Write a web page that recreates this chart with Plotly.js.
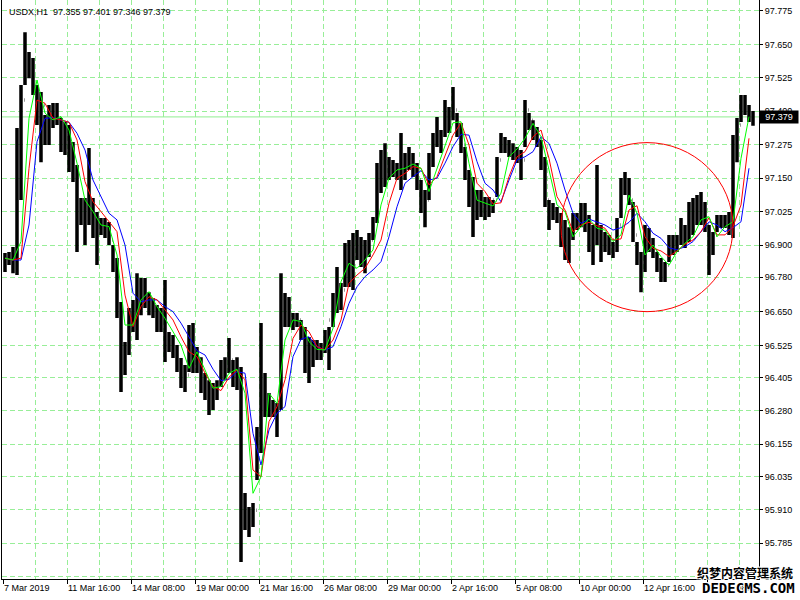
<!DOCTYPE html>
<html><head><meta charset="utf-8">
<script src="https://cdn.plot.ly/plotly-3.0.1.min.js"></script>
<style>html,body{margin:0;padding:0;background:#fff}#chart{width:800px;height:600px}</style>
</head><body><div id="chart"></div>
<script>
// USDX H1, 7 Mar 2019 .. 17 Apr 2019 ; each drawn bar groups 4 hourly bars
const symbolTitle = "USDX,H1\u00a0\u00a097.355 97.401 97.346 97.379";
const lastPrice = 97.379;
const barHours = 4;
const maStepHours = 8;

const open = [
96.860,96.837,96.852,96.837,97.293,97.442,97.592,97.554,97.480,97.405,
97.424,97.330,97.367,97.405,97.375,97.293,97.274,97.218,97.162,97.050,
97.012,96.994,97.012,96.975,96.975,96.975,96.964,96.919,96.837,96.676,
96.508,96.508,96.620,96.657,96.732,96.713,96.695,96.676,96.657,96.620,
96.620,96.545,96.526,96.508,96.452,96.395,96.414,96.489,96.489,96.452,
96.395,96.358,96.321,96.339,96.377,96.433,96.452,96.470,96.414,96.433,
95.947,95.891,95.872,95.909,96.171,96.358,96.321,96.302,96.283,96.283,
96.695,96.657,96.638,96.620,96.620,96.582,96.508,96.489,96.508,96.508,
96.508,96.526,96.620,96.695,96.732,96.732,96.844,96.863,96.900,96.900,
96.881,96.900,96.919,96.994,97.143,97.199,97.181,97.181,97.188,97.181,
97.199,97.199,97.218,97.199,97.143,97.068,97.068,97.218,97.293,97.311,
97.311,97.386,97.386,97.405,97.349,97.274,97.162,97.087,97.068,97.050,
97.031,97.031,97.050,97.068,97.218,97.274,97.274,97.255,97.255,97.237,
97.218,97.405,97.367,97.330,97.293,97.218,97.068,97.012,97.031,97.012,
96.938,96.919,96.938,96.994,96.994,97.012,96.994,96.919,96.919,96.938,
96.919,96.919,96.900,96.919,96.975,97.124,97.143,97.068,96.938,96.863,
96.825,96.919,96.900,96.881,96.825,96.807,96.825,96.900,96.900,96.919,
96.956,96.938,96.994,97.031,97.031,97.012,96.975,96.919,96.938,96.986,
96.994,96.986,96.975,97.255,97.349,97.424,97.405,97.386];
const high = [
96.870,96.874,96.893,97.338,97.498,97.696,97.622,97.599,97.498,97.472,
97.386,97.424,97.431,97.431,97.375,97.360,97.349,97.285,97.199,97.076,
97.076,97.263,97.076,97.024,97.001,97.001,96.986,96.900,96.852,96.687,
96.538,96.665,96.695,96.795,96.777,96.777,96.724,96.702,96.676,96.665,
96.769,96.575,96.564,96.526,96.478,96.452,96.601,96.609,96.519,96.481,
96.422,96.395,96.384,96.395,96.470,96.481,96.553,96.470,96.481,96.444,
95.973,95.921,95.936,96.220,96.609,96.422,96.347,96.321,96.310,96.795,
96.721,96.706,96.646,96.646,96.620,96.594,96.556,96.545,96.545,96.534,
96.582,96.594,96.721,96.818,96.758,96.908,96.919,96.945,96.956,96.930,
96.919,96.945,97.005,97.207,97.255,97.281,97.229,97.218,97.207,97.319,
97.244,97.267,97.244,97.207,97.143,97.106,97.244,97.319,97.379,97.330,
97.442,97.416,97.491,97.394,97.356,97.267,97.181,97.154,97.106,97.106,
97.080,97.080,97.068,97.229,97.319,97.304,97.293,97.281,97.267,97.255,
97.442,97.394,97.367,97.341,97.293,97.229,97.068,97.057,97.042,97.020,
96.994,96.967,97.020,97.020,97.057,97.057,97.012,96.975,97.199,96.975,
96.949,96.938,96.911,97.001,97.151,97.173,97.151,97.061,96.911,96.874,
96.975,96.964,96.926,96.874,96.852,96.837,96.938,96.938,96.938,97.001,
96.975,97.061,97.076,97.087,97.098,97.061,96.975,96.949,97.012,97.012,
97.012,97.024,97.311,97.375,97.461,97.461,97.424,97.401];
const low = [
96.799,96.825,96.795,96.788,97.068,97.498,97.524,97.461,97.349,97.210,
97.274,97.274,97.338,97.349,97.248,97.237,97.173,97.136,96.874,96.975,
96.900,96.975,96.926,96.825,96.938,96.926,96.900,96.799,96.627,96.351,
96.414,96.489,96.575,96.545,96.638,96.665,96.638,96.627,96.575,96.575,
96.463,96.500,96.478,96.425,96.366,96.351,96.425,96.422,96.422,96.347,
96.321,96.265,96.283,96.321,96.369,96.395,96.422,96.369,96.358,95.715,
95.835,95.809,95.846,96.022,96.123,96.257,96.257,96.257,96.182,96.283,
96.594,96.594,96.582,96.594,96.545,96.422,96.384,96.444,96.470,96.470,
96.496,96.433,96.594,96.646,96.657,96.743,96.743,96.732,96.844,96.818,
96.795,96.855,96.919,96.982,97.095,97.117,97.143,97.154,97.143,97.106,
97.143,97.181,97.154,97.106,97.020,96.967,97.068,97.192,97.267,97.244,
97.304,97.319,97.367,97.304,97.244,97.143,97.042,96.930,96.994,97.005,
96.994,97.005,97.020,97.080,97.244,97.244,97.229,97.218,97.207,97.143,
97.267,97.330,97.293,97.267,97.181,97.042,96.956,96.994,96.982,96.893,
96.844,96.833,96.919,96.956,96.967,96.949,96.874,96.825,96.900,96.837,
96.874,96.863,96.852,96.874,97.001,97.087,97.050,96.911,96.825,96.724,
96.799,96.874,96.852,96.799,96.762,96.762,96.837,96.863,96.874,96.900,
96.889,96.911,96.938,96.975,96.975,96.949,96.788,96.863,96.949,96.964,
96.964,96.938,96.926,97.210,97.360,97.386,97.360,97.346];
const close = [
96.837,96.852,96.837,97.293,97.442,97.592,97.554,97.480,97.405,97.424,
97.330,97.367,97.405,97.375,97.293,97.274,97.218,97.162,97.050,97.012,
96.994,97.012,96.975,96.975,96.975,96.964,96.919,96.837,96.676,96.508,
96.508,96.620,96.657,96.732,96.713,96.695,96.676,96.657,96.620,96.620,
96.545,96.526,96.508,96.452,96.395,96.414,96.489,96.489,96.452,96.395,
96.358,96.321,96.339,96.377,96.433,96.452,96.470,96.414,96.433,95.947,
95.891,95.872,95.909,96.171,96.358,96.321,96.302,96.283,96.283,96.695,
96.657,96.638,96.620,96.620,96.582,96.508,96.489,96.508,96.508,96.508,
96.526,96.620,96.695,96.732,96.732,96.844,96.863,96.900,96.900,96.881,
96.900,96.919,96.994,97.143,97.199,97.181,97.181,97.188,97.181,97.199,
97.199,97.218,97.199,97.143,97.068,97.068,97.218,97.293,97.311,97.311,
97.386,97.386,97.405,97.349,97.274,97.162,97.087,97.068,97.050,97.031,
97.031,97.050,97.068,97.218,97.274,97.274,97.255,97.255,97.237,97.218,
97.405,97.367,97.330,97.293,97.218,97.068,97.012,97.031,97.012,96.938,
96.919,96.938,96.994,96.994,97.012,96.994,96.919,96.919,96.938,96.919,
96.919,96.900,96.919,96.975,97.124,97.143,97.068,96.938,96.863,96.825,
96.919,96.900,96.881,96.825,96.807,96.825,96.900,96.900,96.919,96.956,
96.938,96.994,97.031,97.031,97.012,96.975,96.919,96.938,96.986,96.994,
96.986,96.975,97.255,97.349,97.424,97.405,97.386,97.379];

const maGreen = [
96.851,96.844,96.913,97.374,97.517,97.393,97.368,97.380,97.330,97.206,
97.068,97.025,96.975,96.969,96.863,96.601,96.601,96.695,96.726,96.670,
96.626,96.576,96.526,96.439,96.501,96.433,96.365,96.371,96.421,96.436,
96.346,95.972,96.034,96.346,96.308,96.545,96.620,96.614,96.539,96.510,
96.508,96.589,96.763,96.832,96.813,96.844,96.882,97.050,97.150,97.181,
97.187,97.203,97.187,97.100,97.183,97.268,97.357,97.361,97.206,97.068,
97.058,97.046,97.094,97.230,97.259,97.299,97.355,97.305,97.181,97.050,
97.025,96.931,96.969,96.997,96.963,96.956,96.913,96.938,97.087,97.019,
96.863,96.900,96.857,96.825,96.875,96.907,96.931,96.994,97.006,96.931,
96.969,96.987,97.224,97.380];
const maRed = [
96.851,96.844,96.851,97.187,97.442,97.430,97.374,97.368,97.359,97.293,
97.137,97.062,97.025,96.987,96.950,96.713,96.595,96.670,96.707,96.695,
96.657,96.620,96.557,96.501,96.483,96.421,96.371,96.356,96.406,96.433,
96.396,96.059,96.034,96.240,96.296,96.396,96.551,96.601,96.576,96.520,
96.508,96.545,96.620,96.757,96.788,96.813,96.863,96.919,97.056,97.150,
97.168,97.193,97.187,97.125,97.156,97.230,97.311,97.357,97.274,97.131,
97.100,97.054,97.058,97.156,97.230,97.249,97.305,97.330,97.224,97.081,
97.031,96.950,96.975,96.985,96.972,96.963,96.919,96.923,97.031,97.047,
96.931,96.888,96.878,96.857,96.878,96.903,96.919,96.950,97.002,96.938,
96.938,96.969,97.050,97.299];
const maBlue = [
96.851,96.844,96.844,96.975,97.286,97.374,97.376,97.368,97.359,97.318,
97.255,97.143,97.081,97.019,96.994,96.900,96.720,96.688,96.695,96.695,
96.670,96.651,96.608,96.557,96.505,96.489,96.436,96.393,96.398,96.427,
96.421,96.196,96.078,96.209,96.271,96.296,96.483,96.548,96.557,96.520,
96.508,96.520,96.595,96.682,96.744,96.782,96.807,96.838,96.931,97.043,
97.131,97.156,97.178,97.143,97.150,97.206,97.268,97.314,97.311,97.212,
97.131,97.106,97.062,97.143,97.218,97.230,97.249,97.305,97.280,97.206,
97.106,97.019,96.981,96.997,96.987,96.975,96.956,96.965,96.985,97.019,
96.987,96.944,96.925,96.890,96.882,96.894,96.913,96.950,96.987,96.975,
96.950,96.965,96.987,97.187];

const xTickHours = [0,64,128,192,256,320,384,448,512,576,640,704];
const xTickLabels = ["7 Mar 2019","11 Mar 16:00","14 Mar 08:00","19 Mar 00:00","21 Mar 16:00",
  "26 Mar 08:00","29 Mar 00:00","2 Apr 16:00","5 Apr 08:00","10 Apr 00:00","12 Apr 16:00","17 Apr 08:00"];
const yTickLabels = ["97.775","97.650","97.525","97.400","97.275","97.150","97.025","96.900",
  "96.780","96.650","96.525","96.405","96.280","96.155","96.035","95.910","95.785","95.660"];

// hour index of each drawn bar / MA sample (centre of its group)
const barX = close.map((_, i) => i * barHours + barHours / 2);
const maX = maGreen.map((_, i) => i * maStepHours + 2);

const FONT = "Liberation Sans, Arial, sans-serif";
const GRID = "#98EE98";

const traces = [
  {type: "ohlc", x: barX, open: open, high: high, low: low, close: close,
   increasing: {line: {color: "#000", width: 3.5}}, decreasing: {line: {color: "#000", width: 3.5}},
   tickwidth: 0.1, hoverinfo: "skip", showlegend: false},
  {type: "scatter", mode: "lines", x: maX, y: maBlue, line: {color: "#0000FF", width: 1}, hoverinfo: "skip", showlegend: false},
  {type: "scatter", mode: "lines", x: maX, y: maRed, line: {color: "#FF0000", width: 1}, hoverinfo: "skip", showlegend: false},
  {type: "scatter", mode: "lines", x: maX, y: maGreen, line: {color: "#00FF00", width: 1}, hoverinfo: "skip", showlegend: false}
];

const layout = {
  width: 800, height: 600,
  margin: {l: 2, r: 41, t: 0, b: 21, pad: 0},
  paper_bgcolor: "#fff", plot_bgcolor: "#fff",
  font: {family: FONT, size: 9, color: "#000"},
  showlegend: false,
  xaxis: {
    type: "linear", range: [-1, 756], fixedrange: true,
    rangeslider: {visible: false},
    tickmode: "array", tickvals: xTickHours, ticktext: xTickLabels,
    ticklabelposition: "outside right",
    ticks: "outside", ticklen: 4, tickcolor: "#000", tickwidth: 1,
    showline: true, linecolor: "#000", linewidth: 1, mirror: false,
    showgrid: true, gridcolor: GRID, griddash: "5px,3px", gridwidth: 1,
    minor: {tick0: 0, dtick: 32, showgrid: true, gridcolor: GRID, griddash: "5px,3px", ticks: ""},
    zeroline: false, tickfont: {family: FONT, size: 9, color: "#000"}
  },
  yaxis: {
    side: "right", range: [95.6516, 97.8161], fixedrange: true,
    tickmode: "array", tickvals: yTickLabels.map(Number), ticktext: yTickLabels,
    ticks: "outside", ticklen: 3, tickcolor: "#000",
    showline: true, linecolor: "#000", linewidth: 1, mirror: true,
    showgrid: true, gridcolor: GRID, griddash: "5px,3px", gridwidth: 1,
    zeroline: false, tickfont: {family: FONT, size: 9, color: "#000"}
  },
  shapes: [
    {type: "line", xref: "paper", x0: 0, x1: 1, yref: "y", y0: lastPrice, y1: lastPrice,
     line: {color: "#90EE90", width: 1}, layer: "below"},
    {type: "circle", xref: "x", yref: "y", x0: 558, x1: 730, y0: 96.651, y1: 97.283,
     line: {color: "#FF0000", width: 1}, layer: "above"}
  ],
  annotations: [
    {xref: "paper", yref: "paper", x: 0, y: 1, xshift: 5, yshift: -5, xanchor: "left", yanchor: "top",
     text: symbolTitle, showarrow: false, font: {family: FONT, size: 9, color: "#000"}},
    {xref: "paper", yref: "y", x: 1, y: lastPrice, xanchor: "left", yanchor: "middle",
     text: String(lastPrice.toFixed(3)), showarrow: false, bgcolor: "#000", borderpad: 1,
     width: 36, align: "center", font: {family: FONT, size: 9, color: "#fff"}},
    {xref: "paper", yref: "paper", x: 1, y: 0, xshift: 36, yshift: -4, xanchor: "right", yanchor: "bottom",
     text: "<b>织梦内容管理系统</b>", showarrow: false,
     font: {family: "Noto Sans CJK SC", size: 12, color: "#000",
            shadow: "1px 1px 0 #fff, -1px -1px 0 #fff, 1px -1px 0 #fff, -1px 1px 0 #fff"}},
    {xref: "paper", yref: "paper", x: 1, y: 0, xshift: 38, yshift: -19, xanchor: "right", yanchor: "bottom",
     text: "<b>DEDECMS.COM</b>", showarrow: false,
     font: {family: "DejaVu Sans Mono", size: 14, color: "#000",
            shadow: "1px 1px 0 #fff, -1px -1px 0 #fff, 1px -1px 0 #fff, -1px 1px 0 #fff"}}
  ]
};

Plotly.newPlot("chart", traces, layout, {staticPlot: true, displayModeBar: false});
</script>
</body></html>
